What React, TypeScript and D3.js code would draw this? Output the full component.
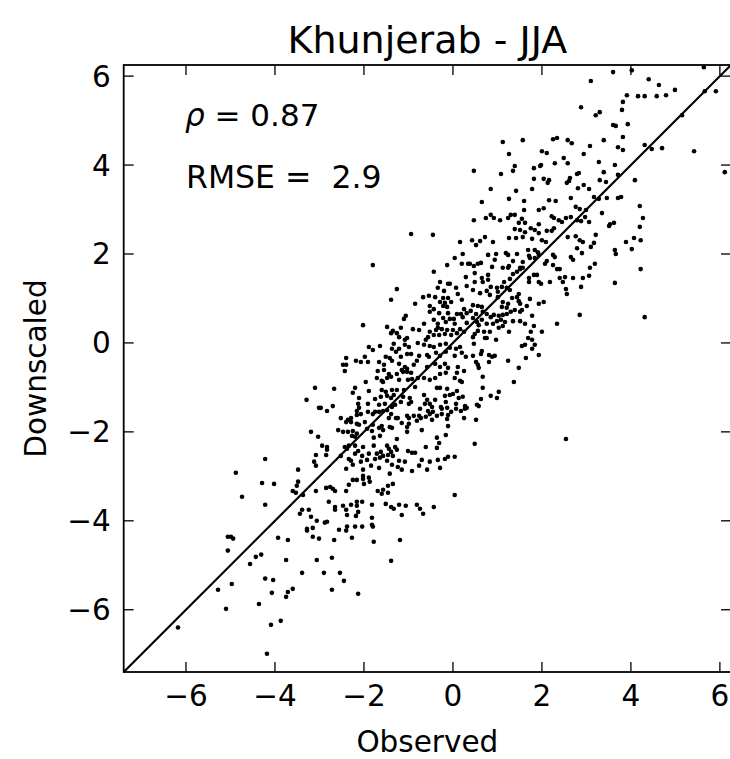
import React from "react";
import * as d3 from "d3";

const title = "Khunjerab - JJA";
const xLabel = "Observed";
const yLabel = "Downscaled";
const statRho = "0.87";
const statRmse = "2.9";
const domain: [number, number] = [-7.4, 6.25];
const ticks = [-6, -4, -2, 0, 2, 4, 6];

// [observed, downscaled]
const points: [number, number][] = [
  [-3.10,-1.01],[-3.29,-1.28],[-3.01,-1.46],[-3.19,-2.00],[-3.03,-2.11],[-4.22,-2.61],[-3.08,-2.52],[-3.12,-2.67],[-3.08,-2.76],[-4.88,-2.92],
  [-3.48,-2.85],[-4.29,-3.15],[-4.02,-3.17],[-3.48,-3.12],[-3.51,-3.21],[-3.60,-3.33],[-3.53,-3.37],[-3.37,-3.42],[-3.08,-3.33],[-4.74,-3.46],
  [-4.22,-3.64],[-3.39,-3.75],[-3.24,-3.75],[-3.44,-3.84],[-3.19,-3.91],[-3.06,-4.00],[-3.28,-4.18],[-3.15,-4.16],
  [-5.06,-4.36],[-4.99,-4.36],[-4.94,-4.40],[-5.06,-4.67],[-3.93,-4.38],[-3.71,-4.43],[-3.28,-4.22],[-3.15,-4.36],[-3.01,-4.40],[-4.31,-4.76],
  [-4.43,-4.81],[-4.56,-4.97],[-3.75,-4.88],[-3.06,-4.88],[-3.39,-5.17],[-4.97,-5.42],[-5.28,-5.55],[-4.22,-5.30],[-4.04,-5.33],[-4.07,-5.62],
  [-3.71,-5.60],[-3.60,-5.53],[-3.75,-5.71],[-4.36,-5.87],[-5.10,-5.98],[-3.87,-6.25],[-4.09,-6.34],[-6.18,-6.40],[-4.18,-6.99],
  [-0.94,2.45],[-0.45,2.43],[0.16,2.27],[0.22,2.00],[0.04,1.91],[-0.13,1.75],[0.20,1.78],[0.34,1.78],[-1.80,1.75],[-0.43,1.60],
  [0.29,1.48],[-0.29,1.37],[-0.11,1.33],[-0.07,1.33],[-0.34,1.24],[0.07,1.24],[0.31,1.28],[-1.26,1.21],[-0.20,1.17],[-0.67,1.03],
  [-0.54,1.06],[-0.40,1.03],[-0.22,1.01],[-0.11,1.01],[0.11,1.10],[-1.39,0.97],[-0.29,0.92],[-0.18,0.90],[-0.04,0.92],[0.20,0.97],
  [-0.85,0.88],[-0.52,0.83],[-0.22,0.83],[-0.13,0.81],[-0.43,0.76],[0.25,0.76],[-0.52,0.70],[-0.31,0.67],[-0.11,0.67],[0.09,0.65],
  [0.18,0.65],[0.31,0.67],[-1.06,0.61],[-1.10,0.54],[-0.22,0.56],[-0.07,0.54],[0.02,0.54],[0.22,0.58],[-0.43,0.52],[-0.34,0.43],
  [-0.16,0.47],[0.04,0.43],[-2.02,0.40],[-1.48,0.36],[-1.35,0.27],[-1.17,0.34],[-1.39,0.22],[-1.26,0.22],[-0.90,0.31],[-0.76,0.29],
  [-0.65,0.43],[-0.34,0.34],[-0.52,0.25],[-0.38,0.29],[-0.25,0.31],[-0.13,0.29],[0.00,0.29],[0.16,0.31],[0.31,0.45],[-1.21,0.13],
  [-1.03,0.11],[-1.08,0.07],[-0.56,0.13],[-0.43,0.18],[-0.31,0.18],[-0.18,0.20],[-0.04,0.18],[0.09,0.22],[0.25,0.25],[-1.64,-0.07],
  [-1.89,-0.09],[-1.80,-0.16],[-1.33,-0.02],[-1.37,-0.13],[-1.21,-0.13],[-1.08,-0.04],[-0.99,-0.09],[-0.79,0.00],[-0.61,0.07],[-0.65,-0.04],
  [-0.52,-0.07],[-0.43,-0.09],[-0.29,-0.04],[-0.16,-0.02],[-0.07,-0.11],[0.07,-0.13],[0.16,-0.09],[-1.51,-0.31],[-1.42,-0.34],[-1.28,-0.20],
  [-1.17,-0.31],[-1.03,-0.25],[-0.94,-0.25],[-1.98,-0.31],[-2.18,-0.40],[-2.40,-0.34],[-2.40,-0.49],[-2.47,-0.49],[-2.43,-0.63],[-0.76,-0.29],
  [-0.58,-0.27],[-0.54,-0.31],[-0.38,-0.22],[-0.29,-0.29],[-0.16,-0.20],[0.04,-0.29],[0.20,-0.22],[0.29,-0.31],[-2.07,-0.43],[-1.91,-0.43],
  [-1.66,-0.43],[-1.55,-0.49],[-1.37,-0.40],[-1.21,-0.47],[-1.08,-0.54],[-1.15,-0.61],[-1.03,-0.58],[-0.88,-0.49],[-0.81,-0.40],[-1.69,-0.63],
  [-1.55,-0.61],[-1.44,-0.70],[-1.26,-0.70],[-1.12,-0.65],[-1.03,-0.65],[-0.94,-0.67],[-0.58,-0.54],[-0.40,-0.47],[-0.29,-0.54],[-0.18,-0.47],
  [-0.11,-0.56],[0.11,-0.54],[0.25,-0.63],[0.09,-0.67],[-0.16,-0.67],[-0.29,-0.70],
  [-1.96,-0.88],[-1.71,-0.79],[-1.60,-0.85],[-1.48,-0.79],[-1.39,-0.76],[-1.57,-0.88],[-1.21,-0.83],[-1.01,-0.83],[-0.92,-0.81],[-0.79,-0.79],
  [-0.65,-0.79],[-0.52,-0.83],[-0.40,-0.79],[0.04,-0.79],[0.16,-0.85],[0.20,-0.88],[-2.67,-1.03],[-2.20,-1.01],[-1.89,-1.08],[-1.60,-1.06],
  [-1.51,-1.10],[-1.37,-1.06],[-1.26,-1.06],[-1.10,-1.06],[-0.85,-0.99],[-0.36,-1.01],[-0.29,-1.01],[-0.13,-1.03],[0.09,-1.08],[-2.25,-1.12],
  [-2.11,-1.24],[-1.75,-1.26],[-1.62,-1.21],[-1.48,-1.19],[-1.39,-1.24],[-1.33,-1.17],[-1.12,-1.21],[-0.97,-1.24],[-0.94,-1.33],[-0.99,-1.37],
  [-0.65,-1.17],[-0.58,-1.28],[-0.40,-1.28],[-0.18,-1.19],[-0.07,-1.17],[0.00,-1.15],[0.13,-1.24],[0.22,-1.21],[-2.13,-1.37],[-2.11,-1.46],
  [-1.91,-1.37],[-1.66,-1.39],[-1.53,-1.37],[-1.48,-1.51],[-1.37,-1.44],[-1.30,-1.39],[-1.17,-1.33],[-0.63,-1.37],[-0.52,-1.37],[-0.47,-1.44],
  [-0.27,-1.44],[-0.16,-1.33],[-0.13,-1.46],[0.07,-1.37],[0.27,-1.42],[0.31,-1.46],[-2.97,-1.46],[-2.83,-1.53],[-2.70,-1.42],[-2.16,-1.53],
  [-1.91,-1.55],[-1.75,-1.55],[-1.57,-1.53],[-1.39,-1.60],[-0.74,-1.48],[-0.56,-1.53],[-0.45,-1.55],[-0.25,-1.48],[-0.04,-1.55],[0.07,-1.48],
  [0.18,-1.53],[0.27,-1.48],[-2.52,-1.69],[-2.36,-1.73],[-2.29,-1.69],[-2.16,-1.62],[-2.07,-1.60],[-1.80,-1.60],[-1.66,-1.55],[-1.44,-1.69],
  [-1.28,-1.69],[-1.24,-1.69],[-1.03,-1.64],[-0.99,-1.69],[-0.88,-1.64],[-0.76,-1.64],[-0.72,-1.69],[-0.61,-1.66],[-0.52,-1.60],[-0.36,-1.64],
  [-0.25,-1.60],[-0.11,-1.62],[0.25,-1.69],[-2.40,-1.78],[-2.29,-1.78],[-2.16,-1.82],[-1.98,-1.78],[-1.80,-1.84],[-1.60,-1.87],[-1.42,-1.89],
  [-1.15,-1.80],[-1.03,-1.89],[-0.99,-1.82],[-0.81,-1.75],[-0.47,-1.73],[-0.13,-1.71],[-0.11,-1.87],[-2.58,-1.96],[-2.47,-2.00],[-2.36,-2.00],
  [-2.25,-1.98],[-2.16,-2.04],[-2.11,-1.84],[-1.93,-1.93],[-1.82,-1.98],[-1.66,-1.91],[-1.57,-1.96],[-1.37,-1.91],[-1.03,-2.00],[-0.70,-1.96],
  [-0.16,-2.07],[-2.27,-2.09],[-2.20,-2.11],[-1.78,-2.13],[-1.64,-2.09],[-1.26,-2.16],[-0.36,-2.13],[-0.31,-2.25],[-2.94,-2.31],[-2.83,-2.34],
  [-2.83,-2.40],[-2.43,-2.34],[-2.38,-2.38],[-2.34,-2.31],[-2.20,-2.31],[-2.02,-2.34],[-1.78,-2.31],[-1.48,-2.31],[-1.30,-2.34],[-1.26,-2.40],
  [-1.44,-2.38],[-1.01,-2.43],[-0.92,-2.47],[-0.85,-2.47],[-0.61,-2.34],[-0.36,-2.36],[-2.85,-2.52],[-2.52,-2.54],[-2.20,-2.49],[-2.13,-2.43],
  [-2.04,-2.54],[-1.89,-2.49],[-1.71,-2.49],[-1.62,-2.45],[-1.57,-2.54],[-1.39,-2.45],[-1.46,-2.52],[-1.35,-2.54],[-2.34,-2.61],[-2.29,-2.65],
  [-2.07,-2.67],[-1.93,-2.63],[-1.75,-2.61],[-1.64,-2.58],[-1.48,-2.65],[-1.21,-2.65],[-1.08,-2.67],[-0.70,-2.63],[-0.52,-2.67],[-0.34,-2.63],
  [-0.18,-2.61],[-0.11,-2.56],[0.04,-2.56],[-2.25,-2.74],[-1.84,-2.76],[-1.66,-2.81],[-1.37,-2.74],[-1.24,-2.79],[-0.92,-2.88],[-0.76,-2.76],
  [-0.58,-2.85],[-0.29,-2.81],[-2.40,-2.83],[-2.02,-2.85],[-2.02,-2.99],[-1.42,-2.94],[-1.15,-2.85],[-2.34,-3.19],[-2.25,-3.08],[-2.16,-3.08],
  [-2.02,-3.06],[-1.89,-3.03],[-1.87,-3.12],[-2.00,-3.17],[-1.46,-3.21],[-1.35,-3.17],[-1.57,-3.30],[-1.69,-3.33],[-1.46,-3.37],[-1.60,-3.39],
  [-2.85,-3.26],[-2.76,-3.24],[-2.70,-3.28],[-2.65,-3.33],[-2.40,-3.33],[0.04,-3.42],[-2.79,-3.57],[-2.65,-3.69],[-2.65,-3.75],[-2.47,-3.66],
  [-2.40,-3.75],[-2.29,-3.64],[-2.16,-3.57],[-2.04,-3.57],[-2.16,-3.66],[-1.82,-3.64],[-1.51,-3.62],[-1.39,-3.69],[-1.33,-3.73],[-1.21,-3.64],
  [-1.06,-3.66],[-0.81,-3.64],[-0.74,-3.73],[-0.67,-3.84],[-0.43,-3.69],[-1.15,-3.87],[-2.38,-3.87],[-2.13,-3.80],[-2.18,-3.89],[-1.82,-3.93],
  [-2.83,-4.02],[-2.88,-4.04],[-2.38,-4.13],[-2.20,-4.13],[-2.04,-4.13],[-1.82,-4.09],[-1.80,-4.13],
  [-2.56,-4.20],[-2.40,-4.22],[-2.67,-4.43],[-2.27,-4.38],[-1.78,-4.47],[-1.19,-4.43],[-2.72,-4.83],[-1.39,-4.90],[-2.90,-5.17],[-2.54,-5.17],
  [-2.45,-5.35],[-2.72,-5.55],[-2.13,-5.64],
  [3.10,5.89],[2.88,5.30],[3.21,5.12],[3.30,5.19],[3.60,4.90],[3.66,4.88],[1.12,4.52],[1.57,4.56],[2.25,4.58],[2.34,4.61],
  [2.58,4.56],[2.67,4.49],[3.39,4.56],[3.71,4.40],[3.08,4.43],[1.26,4.25],[2.00,4.31],[2.11,4.27],[2.94,4.25],[2.49,4.16],
  [2.58,4.04],[2.29,4.04],[3.28,4.07],[3.64,4.00],[0.47,3.87],[1.08,3.80],[1.35,3.87],[1.39,3.98],[1.82,3.93],[1.96,3.98],
  [1.98,4.00],[2.79,3.80],[2.83,3.82],[3.39,3.84],[1.82,3.69],[2.04,3.69],[2.16,3.66],[2.13,3.60],[2.63,3.71],[2.61,3.64],
  [2.56,3.60],[3.30,3.66],[3.44,3.62],[0.85,3.46],[1.78,3.46],[2.81,3.48],[2.94,3.55],[3.06,3.46],[3.71,3.78],[1.42,3.42],
  [1.26,3.24],[1.60,3.19],[2.16,3.21],[2.31,3.19],[2.65,3.26],[3.17,3.28],[3.28,3.24],[3.46,3.26],[3.71,3.26],[0.65,3.17],
  [1.60,2.99],[1.93,2.99],[2.04,3.03],[2.76,3.06],[2.85,3.01],[2.99,2.99],[3.35,2.92],[0.47,2.76],[0.74,2.81],[0.85,2.88],
  [0.92,2.81],[1.06,2.76],[1.24,2.81],[1.30,2.88],[1.39,2.88],[1.55,2.79],[1.48,2.70],[1.62,2.70],[1.93,2.67],[2.22,2.85],
  [2.27,2.81],[2.38,2.76],[2.45,2.72],[2.54,2.81],[2.65,2.83],[2.79,2.76],[2.88,2.74],[2.97,2.83],[3.06,2.72],[3.53,2.67],
  [3.62,2.70],
  [1.39,2.56],[1.51,2.54],[1.62,2.49],[1.75,2.58],[1.84,2.54],[1.93,2.47],[2.11,2.52],[2.22,2.52],[2.27,2.58],[3.51,2.63],
  [0.43,2.31],[0.52,2.20],[0.61,2.29],[0.72,2.38],[0.90,2.27],[1.26,2.36],[1.42,2.36],[1.57,2.38],[1.78,2.34],[2.00,2.31],
  [2.09,2.27],[2.58,2.38],[2.76,2.40],[2.85,2.31],[2.92,2.27],[3.10,2.16],[3.17,2.25],[3.21,2.43],[0.79,1.98],[0.97,2.00],
  [0.94,1.87],[1.19,2.02],[1.24,1.98],[1.35,1.84],[1.44,2.00],[1.69,2.09],[1.84,2.09],[1.91,2.04],[1.71,1.96],[1.73,1.91],
  [1.84,1.91],[1.93,1.98],[2.25,1.98],[2.29,1.93],[2.65,1.93],[2.70,1.87],[2.79,2.13],[2.90,2.02],[3.64,2.09],[3.66,2.00],
  [0.38,1.78],[0.47,1.73],[0.56,1.78],[0.63,1.80],[0.88,1.71],[1.12,1.69],[1.24,1.69],[1.26,1.73],[1.51,1.69],[1.57,1.69],
  [1.57,1.82],[2.11,1.84],[2.25,1.75],[2.07,1.78],[2.34,1.66],[2.40,1.66],[3.19,1.78],[3.08,1.69],[3.06,1.51],[2.92,1.46],
  [2.70,1.46],[2.52,1.48],[2.47,1.37],[2.40,1.46],[2.88,1.26],[3.64,1.35],[2.54,1.21],[2.56,1.10],[0.49,1.57],[0.49,1.37],
  [0.65,1.46],[0.67,1.37],[0.79,1.53],[0.79,1.42],[0.85,1.26],[0.99,1.24],[1.10,1.26],[1.15,1.37],[1.28,1.44],[1.35,1.55],
  [1.44,1.60],[1.51,1.66],[1.71,1.37],[1.71,1.46],[1.82,1.53],[1.89,1.53],[1.93,1.37],[1.98,1.33],[2.18,1.37],[0.45,1.19],
  [0.61,1.12],[0.76,1.17],[0.83,1.08],[1.01,1.15],[1.01,1.03],[1.21,1.24],[1.28,1.19],[1.33,1.01],[1.44,1.03],[1.48,1.10],
  [1.48,0.94],[1.73,0.99],[1.93,0.88],[2.04,0.92],[1.66,0.83],[1.51,0.88],[1.24,0.88],[1.12,0.92],[1.10,0.81],[1.21,0.79],
  [0.45,0.85],[0.56,0.83],[0.65,0.81],[0.67,0.70],[0.52,0.65],[0.40,0.72],[0.76,0.65],[0.92,0.63],[1.03,0.61],[1.12,0.63],
  [1.21,0.65],[1.30,0.70],[1.39,0.74],[1.51,0.70],[1.55,0.74],[1.78,0.61],[1.51,0.49],[1.62,0.43],[1.35,0.49],[1.17,0.47],
  [1.08,0.52],[0.99,0.49],[0.90,0.43],[0.85,0.58],[2.85,0.63],[2.34,0.43],[0.45,0.56],[0.54,0.47],[0.65,0.52],[0.76,0.43],
  [0.58,0.40],[0.56,0.27],[0.70,0.25],[0.83,0.25],[1.03,0.34],[1.12,0.38],[1.26,0.25],[0.49,0.20],[0.45,0.13],[0.72,0.11],
  [0.76,0.11],[0.97,0.07],[1.82,0.38],[1.75,0.25],[2.00,0.25],[1.69,0.11],[1.78,0.07],[1.62,-0.04],[1.55,-0.07],[1.78,-0.13],
  [1.84,-0.04],[1.93,-0.27],[1.64,-0.34],[1.48,-0.56],[0.47,-0.02],[0.65,-0.18],[0.63,-0.25],[0.81,-0.27],[0.88,-0.31],[0.94,-0.29],
  [1.24,-0.40],[0.52,-0.43],[0.56,-0.49],[0.58,-0.56],[0.81,-0.43],[0.45,-0.29],
  [0.67,-0.76],[1.37,-0.88],[0.67,-1.01],[1.03,-1.10],[0.85,-1.19],[0.99,-1.24],[0.63,-1.26],[0.54,-1.39],[0.58,-1.42],[0.52,-1.73],
  [0.49,-2.27],[2.54,-2.16],
  [4.02,6.13],[5.64,6.20],[4.40,5.93],[4.63,5.80],[3.91,5.57],[4.16,5.55],[4.31,5.55],[4.58,5.55],[4.79,5.57],[4.99,5.69],
  [5.66,5.66],[5.91,5.66],[3.82,5.42],[3.80,5.24],[5.15,5.12],[3.93,4.92],[3.82,4.63],[3.82,4.34],[4.31,4.45],[4.47,4.36],
  [4.70,4.38],[5.42,4.31],[6.11,3.84],[4.09,3.66],[3.78,3.28],[3.60,6.09],
  [4.20,3.08],[4.27,2.81],[4.20,2.61],[4.07,2.36],[4.22,2.31],[3.89,2.27],[4.02,2.11],[4.22,1.66],[4.31,0.58],
];

const W = 730;
const H = 759;
const left = 123.7;
const right = 731;
const top = 65;
const bottom = 672;
const FONT = "DejaVu Sans, sans-serif";
const fmt = (v: number) => (v < 0 ? "\u2212" + Math.abs(v) : String(v));

export default function App() {
  const x = d3.scaleLinear().domain(domain).range([left, right]);
  const y = d3.scaleLinear().domain(domain).range([bottom, top]);
  const tl = 10;
  return (
    <svg
      width={W}
      height={H}
      style={{ position: "absolute", left: 0, top: 0, background: "#fff" }}
      fontFamily={FONT}
    >
      <rect x={0} y={0} width={W} height={H} fill="#fff" />
      <g>
        {points.map((p, i) => (
          <circle key={i} cx={x(p[0])} cy={y(p[1])} r={2.3} fill="#000" />
        ))}
      </g>
      <line
        x1={x(domain[0])}
        y1={y(domain[0])}
        x2={x(domain[1])}
        y2={y(domain[1])}
        stroke="#000"
        strokeWidth={2.2}
      />
      <rect
        x={left}
        y={top}
        width={right - left}
        height={bottom - top}
        fill="none"
        stroke="#000"
        strokeWidth={1.8}
      />
      {ticks.map((t) => (
        <g key={"x" + t}>
          <line x1={x(t)} x2={x(t)} y1={bottom} y2={bottom - tl} stroke="#000" strokeWidth={1.3} />
          <line x1={x(t)} x2={x(t)} y1={top} y2={top + tl} stroke="#000" strokeWidth={1.3} />
          <text x={x(t)} y={bottom + 34} textAnchor="middle" fontSize={29.5}>
            {fmt(t)}
          </text>
        </g>
      ))}
      {ticks.map((t) => (
        <g key={"y" + t}>
          <line x1={left} x2={left + tl} y1={y(t)} y2={y(t)} stroke="#000" strokeWidth={1.3} />
          <line x1={right} x2={right - tl} y1={y(t)} y2={y(t)} stroke="#000" strokeWidth={1.3} />
          <text x={left - 13} y={y(t) + 10.5} textAnchor="end" fontSize={29.5}>
            {fmt(t)}
          </text>
        </g>
      ))}
      <text x={(left + right) / 2} y={53} textAnchor="middle" fontSize={38}>
        {title}
      </text>
      <text x={(left + right) / 2} y={752} textAnchor="middle" fontSize={29.5}>
        {xLabel}
      </text>
      <text
        transform={`translate(46,${(top + bottom) / 2}) rotate(-90)`}
        textAnchor="middle"
        fontSize={29.5}
      >
        {yLabel}
      </text>
      <text x={185} y={126} fontSize={31} style={{ whiteSpace: "pre" }}>
        <tspan fontStyle="italic">ρ</tspan>
        {" = " + statRho}
      </text>
      <text x={186} y={188} fontSize={31.5} style={{ whiteSpace: "pre" }}>
        {"RMSE =  " + statRmse}
      </text>
    </svg>
  );
}
